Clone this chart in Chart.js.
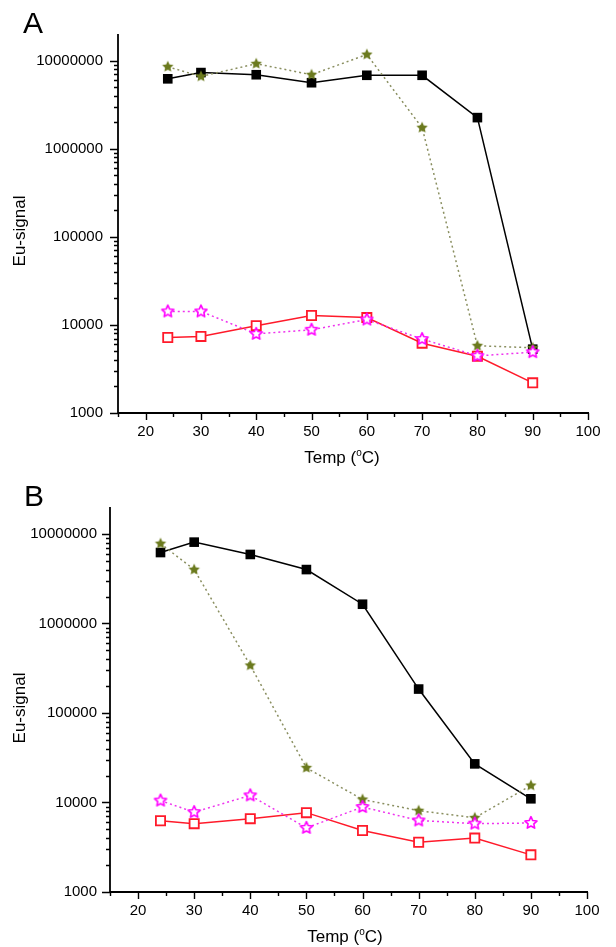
<!DOCTYPE html>
<html lang="en">
<head>
    <meta charset="UTF-8" />
    <title>Eu-signal vs Temp</title>
    <script src="https://cdn.jsdelivr.net/npm/chart.js"></script>
    <style>
        body { margin: 0; background: #fff; font-family: "Liberation Sans", Arial, sans-serif; }
        .wrap { position: relative; width: 616px; height: 947px; }
        canvas { position: absolute; left: 0; }
        .lbl { position: absolute; color: #000; white-space: nowrap; transform: translate(-50%, -50%); }
        .panel { font-size: 30px; }
        .title { font-size: 17px; }
        .ytitle { transform: translate(-50%, -50%) rotate(-90deg); }
        sup { font-size: 10px; vertical-align: 7px; }
    </style>
</head>
<body>
    <div class="wrap">
        <canvas id="chartA" width="616" height="470" style="top:0"></canvas>
        <canvas id="chartB" width="616" height="477" style="top:470px"></canvas>
        <div class="lbl panel" style="left:33px; top:23px">A</div>
        <div class="lbl panel" style="left:34px; top:496px">B</div>
        <div class="lbl title ytitle" style="left:20px; top:231px">Eu-signal</div>
        <div class="lbl title ytitle" style="left:20px; top:708px">Eu-signal</div>
        <div class="lbl title" style="left:342px; top:457px">Temp (<sup>o</sup>C)</div>
        <div class="lbl title" style="left:345px; top:936px">Temp (<sup>o</sup>C)</div>
    </div>

    <script>
        // temperatures (°C)
        const temps = [24, 30, 40, 50, 60, 70, 80, 90];

        // panel A
        const aBlack   = [6200000, 7300000, 6900000, 5600000, 6800000, 6800000, 2250000, 5300];
        const aOlive   = [8500000, 6600000, 9200000, 6900000, 11700000, 1730000, 5800, 5500];
        const aMagenta = [14200, 14200, 7900, 8800, 11500, 6900, 4450, 4900];
        const aRed     = [7200, 7400, 9800, 12800, 12100, 6200, 4400, 2200];

        // panel B
        const bBlack   = [6200000, 8100000, 5900000, 4000000, 1640000, 185000, 27000, 11000];
        const bOlive   = [7800000, 4000000, 340000, 24400, 10800, 8100, 6750, 15500];
        const bMagenta = [10500, 7800, 12000, 5200, 8900, 6300, 5800, 5900];
        const bRed     = [6250, 5800, 6600, 7700, 4870, 3600, 4000, 2600];

        // axes
        const xMin = 15, xMax = 100, xStep = 5;
        const yMin = 1000, yMax = 20000000;
        const yDecades = [1000, 10000, 100000, 1000000, 10000000];

        Chart.defaults.font.family = '"Liberation Sans", Arial, sans-serif';
        Chart.defaults.color = '#000';

        const isDecade = v => yDecades.includes(v);

        // minor ticks 2..9 inside every decade
        const yTickValues = [];
        yDecades.forEach(d => {
            for (let m = 1; m <= 9; m++) {
                if (m * d < yMax) yTickValues.push(m * d);
            }
        });

        function starImage(R, fill, stroke, lw) {
            const size = Math.ceil(2 * R + 2 * lw + 2);
            const c = document.createElement('canvas');
            c.width = size; c.height = size;
            const g = c.getContext('2d');
            const cx = size / 2, cy = size / 2, r = R * 0.48;
            g.beginPath();
            for (let i = 0; i < 10; i++) {
                const ang = -Math.PI / 2 + i * Math.PI / 5;
                const rad = i % 2 === 0 ? R : r;
                const px = cx + rad * Math.cos(ang), py = cy + rad * Math.sin(ang);
                if (i === 0) g.moveTo(px, py); else g.lineTo(px, py);
            }
            g.closePath();
            if (fill) { g.fillStyle = fill; g.fill(); }
            if (stroke) { g.strokeStyle = stroke; g.lineWidth = lw; g.lineJoin = 'round'; g.stroke(); }
            return c;
        }

        const oliveStar = starImage(6, '#6b7a1e', null, 0);
        const magentaStar = starImage(6.3, '#fff', '#ff00ff', 1.6);

        const axesPlugin = {
            id: 'axes',
            afterDraw(chart) {
                const ctx = chart.ctx, a = chart.chartArea;
                const xs = chart.scales.x, ys = chart.scales.y;
                ctx.save();
                ctx.strokeStyle = '#000';
                ctx.lineWidth = 1.8;
                ctx.beginPath();
                ctx.moveTo(a.left, a.top);
                ctx.lineTo(a.left, a.bottom);
                ctx.lineTo(a.right + 1, a.bottom);
                ctx.stroke();
                ctx.lineWidth = 1.4;
                ctx.beginPath();
                ys.ticks.forEach(t => {
                    const py = Math.round(ys.getPixelForValue(t.value)) + 0.5;
                    const len = isDecade(t.value) ? 8 : 4;
                    ctx.moveTo(a.left, py);
                    ctx.lineTo(a.left - len, py);
                });
                xs.ticks.forEach(t => {
                    const px = Math.round(xs.getPixelForValue(t.value)) + 0.5;
                    const len = t.value % 10 === 0 ? 7 : 4;
                    ctx.moveTo(px, a.bottom);
                    ctx.lineTo(px, a.bottom + len);
                });
                ctx.stroke();
                ctx.restore();
            }
        };

        function makeChart(id, black, olive, magenta, red, box) {
            const ctx = document.getElementById(id).getContext('2d');
            return new Chart(ctx, {
                type: 'line',
                data: {
                    labels: temps,
                    datasets: [
                        {
                            data: magenta,
                            borderColor: '#ee33ee',
                            borderWidth: 1.5,
                            borderDash: [2, 3],
                            pointStyle: magentaStar,
                            tension: 0
                        },
                        {
                            data: olive,
                            borderColor: '#8a8f60',
                            borderWidth: 1.5,
                            borderDash: [2, 3],
                            pointStyle: oliveStar,
                            tension: 0
                        },
                        {
                            data: red,
                            borderColor: '#ff1a2a',
                            borderWidth: 1.5,
                            pointStyle: 'rect',
                            pointRadius: 6.5,
                            pointBorderWidth: 1.8,
                            pointBorderColor: '#ff1a2a',
                            pointBackgroundColor: '#fff',
                            tension: 0
                        },
                        {
                            data: black,
                            borderColor: '#000',
                            borderWidth: 1.5,
                            pointStyle: 'rect',
                            pointRadius: 6.8,
                            pointBorderWidth: 0,
                            pointBackgroundColor: '#000',
                            tension: 0
                        }
                    ].map(ds => Object.assign({ clip: false }, ds))
                },
                options: {
                    responsive: false,
                    animation: false,
                    events: [],
                    layout: { padding: { top: box.top, right: box.right, left: 0, bottom: 0 } },
                    plugins: { legend: { display: false }, tooltip: { enabled: false } },
                    scales: {
                        x: {
                            type: 'linear',
                            min: xMin,
                            max: xMax,
                            grid: { display: false, drawTicks: false },
                            border: { display: false },
                            afterFit: s => { s.height = box.xh; },
                            ticks: {
                                stepSize: xStep,
                                autoSkip: false,
                                maxRotation: 0,
                                padding: box.xpad,
                                font: { size: 15 },
                                callback: v => (v % 10 === 0 ? String(v) : '')
                            }
                        },
                        y: {
                            type: 'logarithmic',
                            min: yMin,
                            max: yMax,
                            grid: { display: false, drawTicks: false },
                            border: { display: false },
                            afterFit: s => { s.width = box.left; },
                            afterBuildTicks: s => { s.ticks = yTickValues.map(v => ({ value: v })); },
                            ticks: {
                                autoSkip: false,
                                padding: box.ypad,
                                font: { size: 15 },
                                callback: v => (isDecade(v) ? String(v) : '')
                            }
                        }
                    }
                },
                plugins: [axesPlugin]
            });
        }

        // pair each value with its temperature
        function pts(vals) { return vals.map((v, i) => ({ x: temps[i], y: v })); }

        makeChart('chartA', pts(aBlack), pts(aOlive), pts(aMagenta), pts(aRed),
            { top: 34, right: 28, left: 118, xh: 57, xpad: 10, ypad: 15 });
        makeChart('chartB', pts(bBlack), pts(bOlive), pts(bMagenta), pts(bRed),
            { top: 37, right: 29, left: 110, xh: 55, xpad: 10, ypad: 13 });
    </script>
</body>
</html>
